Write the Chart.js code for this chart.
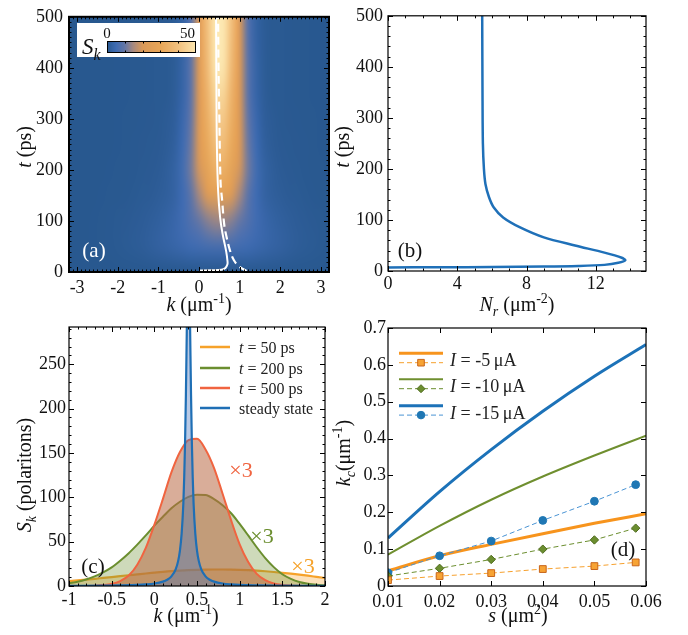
<!DOCTYPE html>
<html>
<head>
<meta charset="utf-8">
<title>polariton panels</title>
<script src="https://cdn.jsdelivr.net/npm/chart.js@4.4.1/dist/chart.umd.min.js"></script>
<style>
  body { margin: 0; background: #fff; }
  #fig { position: relative; width: 688px; height: 635px; overflow: hidden; }
  #fig canvas { position: absolute; }
  #fontwarm { position: absolute; left: -9999px; top: 0; font-family: "Liberation Serif"; font-size: 18px; }
</style>
</head>
<body>
<div id="fontwarm">Sk 0123456789 <i>k t N s I</i></div>
<div id="fig">
  <canvas id="panelA" width="340" height="320" style="left:0;top:0"></canvas>
  <canvas id="panelB" width="358" height="320" style="left:330px;top:0"></canvas>
  <canvas id="panelC" width="340" height="325" style="left:0;top:310px"></canvas>
  <canvas id="panelD" width="358" height="325" style="left:330px;top:310px"></canvas>
</div>
<script>
'use strict'
// ---------- data ----------

// (a) S_k(k, t) map, one row per time
var kCols = [-3.2, -3.0, -2.8, -2.6, -2.4, -2.2, -2.0, -1.8, -1.6, -1.4, -1.2, -1.0, -0.8, -0.6, -0.4, -0.2, 0,
  0.2, 0.4, 0.6, 0.8, 1.0, 1.2, 1.4, 1.6, 1.8, 2.0, 2.2, 2.4, 2.6, 2.8, 3.0, 3.2];
var tRows = [0, 50, 100, 150, 200, 250, 300, 350, 400, 450, 500];
var skT0 = [0,0,0,0,0,0,0,0,0,0,0,0,0,0,0,0,0,0,0,0,0,0,0,0,0,0,0,0,0,0,0,0,0];
var skT50 = [0.02,0.04,0.07,0.1,0.2,0.3,0.45,0.7,1.0,1.35,1.8,2.4,3.0,3.6,4.3,4.9,5.4,5.8,6.0,
  6.0,5.8,5.4,4.9,4.3,3.6,3.0,2.4,1.8,1.35,1.0,0.7,0.45,0.3];
var skT100 = [0.02,0.03,0.05,0.1,0.15,0.25,0.4,0.6,0.8,1.1,1.5,2.1,2.8,3.8,5.4,7.5,10.0,12.3,13.8,
  13.8,12.3,10.0,7.5,5.4,3.8,2.8,2.1,1.5,1.1,0.8,0.6,0.4,0.25];
var skT150 = [0,0,0,0.05,0.1,0.15,0.2,0.3,0.5,0.7,0.9,1.3,1.8,2.9,5.1,9.1,14.6,20.5,24.5,
  24.5,20.5,14.6,9.1,5.1,2.9,1.8,1.3,0.9,0.7,0.5,0.3,0.2,0.15];
var skT200 = [0,0,0,0,0.05,0.1,0.15,0.2,0.3,0.45,0.6,0.9,1.5,2.8,5.7,11.2,19.1,27.5,33.2,
  33.2,27.5,19.1,11.2,5.7,2.8,1.5,0.9,0.6,0.45,0.3,0.2,0.15,0.1];
var skT250 = [0,0,0,0,0.05,0.07,0.1,0.15,0.25,0.35,0.45,0.6,1.05,2.1,4.9,10.7,20.0,31.0,38.4,
  38.4,31.0,20.0,10.7,4.9,2.1,1.05,0.6,0.45,0.35,0.25,0.15,0.1,0.07];
var skT300 = [0,0,0,0,0,0.05,0.1,0.15,0.2,0.25,0.35,0.5,0.8,1.7,4.3,10.1,20.3,32.9,41.9,
  41.9,32.9,20.3,10.1,4.3,1.7,0.8,0.5,0.35,0.25,0.2,0.15,0.1,0.05];
var skT350 = [0,0,0,0,0,0.05,0.08,0.1,0.15,0.2,0.3,0.4,0.5,1.3,3.5,9.2,20.3,34.7,45.4,
  45.4,34.7,20.3,9.2,3.5,1.3,0.5,0.4,0.3,0.2,0.15,0.1,0.08,0.05];
var skT400 = [0,0,0,0,0,0.05,0.08,0.1,0.15,0.2,0.3,0.4,0.5,1.2,3.3,9.2,20.9,37.0,49.2,
  49.2,37.0,20.9,9.2,3.3,1.2,0.5,0.4,0.3,0.2,0.15,0.1,0.08,0.05];
var skT450 = [0,0,0,0,0,0.05,0.08,0.1,0.15,0.2,0.3,0.4,0.5,1.1,3.0,8.8,21.1,38.4,52.0,
  52.0,38.4,21.1,8.8,3.0,1.1,0.5,0.4,0.3,0.2,0.15,0.1,0.08,0.05];
var skT500 = [0,0,0,0,0,0.05,0.08,0.1,0.15,0.2,0.3,0.4,0.5,1.0,2.8,8.4,21.1,39.6,54.8,
  54.8,39.6,21.1,8.4,2.8,1.0,0.5,0.4,0.3,0.2,0.15,0.1,0.08,0.05];
var skGrid = [skT0, skT50, skT100, skT150, skT200, skT250, skT300, skT350, skT400, skT450, skT500];
var colorbarTicks = [0, 50];

// (a) white curves: solid and dashed
var meanK = [0, 0.3, 0.55, 0.65, 0.70, 0.70, 0.67, 0.58, 0.52, 0.47, 0.44, 0.43, 0.42];
var meanT = [3, 3.5, 4.5, 8, 15, 22, 40, 75, 107, 160, 250, 350, 500];
var dashK = [1.17, 1.0, 0.86, 0.76, 0.68, 0.62, 0.57, 0.53, 0.50, 0.48, 0.47];
var dashT = [2, 10, 23, 43, 68, 94, 140, 177, 306, 400, 500];

// (b) reservoir density N_r against time
var nrVals = [0, 3, 6, 9, 11, 12.5, 13.3, 13.7, 13.5, 12.5, 10.8, 9.0, 7.6, 6.65, 6.1, 5.83, 5.63, 5.54, 5.48, 5.46, 5.44];
var nrTimes = [7, 7.3, 7.8, 8.6, 9.8, 12, 16, 21, 26, 36, 50, 66, 86, 105, 125, 145, 170, 200, 250, 333, 500];

// (c) S_k profiles
var kC = [-1, -0.9, -0.8, -0.7, -0.6, -0.5, -0.4, -0.3, -0.2, -0.1, 0, 0.1, 0.2, 0.3, 0.4, 0.5,
  0.6, 0.7, 0.8, 0.9, 1.0, 1.1, 1.2, 1.3, 1.4, 1.5, 1.6, 1.7, 1.8, 1.9, 2.0];
var sk50 = [5.5, 6.3, 7.2, 8.1, 9.1, 10.1, 11.1, 12.1, 13.1, 14.1, 15.0, 15.9, 16.7, 17.3, 17.8, 18.2,
  18.5, 18.6, 18.6, 18.5, 18.2, 17.8, 17.3, 16.6, 15.8, 14.9, 13.9, 12.8, 11.6, 10.3, 9.0];
var sk200 = [3.2, 4.9, 7.4, 10.8, 15.4, 21, 28.5, 37, 46.7, 57, 68, 78, 87.6, 95, 100.5, 102.9,
  102.5, 98, 91, 82, 70, 57, 43.7, 31.5, 21.3, 13.3, 8.1, 4.6, 2.6, 1.4, 0.8];
var sk500 = [0, 0, 0.1, 0.35, 1.0, 2.4, 5.6, 11.8, 24, 43, 69, 98, 128, 151, 164.5, 166,
  154, 133, 104, 74, 47, 27, 13.7, 6.5, 2.8, 1.2, 0.5, 0.2, 0.1, 0, 0];
var kSteady = [-1, -0.6, -0.4, -0.2, -0.1, 0, 0.1, 0.15, 0.2, 0.25, 0.28, 0.30, 0.32, 0.34, 0.35, 0.36, 0.37, 0.38, 0.39, 0.40,
  0.41, 0.42, 0.43, 0.44, 0.45, 0.46, 0.48, 0.50, 0.52, 0.55, 0.60, 0.65, 0.70, 0.80, 0.90, 1.00, 1.20, 1.40, 2.0];
var skSteady = [0.2, 0.44, 0.7, 1.2, 1.8, 2.8, 4.9, 7.0, 10.8, 18.8, 28.6, 40, 59, 93, 122, 161, 216, 285, 353, 383,
  353, 285, 216, 161, 122, 93, 59, 40, 28.6, 18.8, 10.8, 7.0, 4.9, 2.8, 1.8, 1.2, 0.7, 0.44, 0.15];
var cLabels = ['50', '200', '500', 'steady state'];

// (d) k_c against s
var sCurve = [0.01, 0.02, 0.03, 0.04, 0.05, 0.06];
var kc5Curve = [0.041, 0.082, 0.113, 0.142, 0.170, 0.196];
var kc10Curve = [0.085, 0.163, 0.234, 0.297, 0.354, 0.408];
var kc15Curve = [0.13, 0.256, 0.37, 0.474, 0.569, 0.655];
var sSim = [0.01, 0.02, 0.03, 0.04, 0.05, 0.058];
var kc5Sim = [0.016, 0.027, 0.035, 0.046, 0.054, 0.064];
var kc10Sim = [0.027, 0.048, 0.072, 0.100, 0.125, 0.157];
var kc15Sim = [0.036, 0.082, 0.122, 0.178, 0.230, 0.275];
var currents = ['-5', '-10', '-15'];

// ---------- styles ----------
var serif = '"Liberation Serif", "Times New Roman", serif';
Chart.defaults.font.family = serif;
var cmapAt = [0, 0.1, 0.2, 0.3, 0.4, 0.6, 0.8, 1];
var cmapRgb = [[40, 88, 143], [62, 107, 178], [100, 118, 165], [170, 138, 125], [218, 153, 88],
  [232, 166, 88], [242, 192, 126], [252, 230, 175]];

function pairs(xs, ys) {
  return xs.map(function (x, i) { return { x: x, y: ys[i] }; });
}

function skColor(v) {
  var f = Math.max(0, Math.min(1, v / colorbarTicks[1]));
  for (var i = 1; i < cmapAt.length; i++) {
    if (f <= cmapAt[i]) {
      var u = (f - cmapAt[i - 1]) / (cmapAt[i] - cmapAt[i - 1]);
      var c0 = cmapRgb[i - 1], c1 = cmapRgb[i];
      return [c0[0] + (c1[0] - c0[0]) * u, c0[1] + (c1[1] - c0[1]) * u, c0[2] + (c1[2] - c0[2]) * u];
    }
  }
  return cmapRgb[cmapRgb.length - 1];
}

function fontFor(style, size) {
  var small = (style === 'sup' || style === 'sub' || style === 'isub');
  var s = small ? Math.round(size * 0.68) : size;
  var it = (style === 'i' || style === 'isub') ? 'italic ' : '';
  return it + s + 'px ' + serif;
}

// text with italic / sub / sup pieces
function drawRich(ctx, parts, x, y, size, color, align, rotate) {
  ctx.save();
  ctx.translate(x, y);
  if (rotate) ctx.rotate(-Math.PI / 2);
  var w = 0;
  parts.forEach(function (p) { ctx.font = fontFor(p[1], size); w += ctx.measureText(p[0]).width; });
  var cx = align === 'center' ? -w / 2 : (align === 'right' ? -w : 0);
  ctx.fillStyle = color;
  ctx.textBaseline = 'alphabetic';
  ctx.textAlign = 'left';
  parts.forEach(function (p) {
    ctx.font = fontFor(p[1], size);
    var dy = p[1] === 'sup' ? -size * 0.38 : ((p[1] === 'sub' || p[1] === 'isub') ? size * 0.24 : 0);
    ctx.fillText(p[0], cx, dy);
    cx += ctx.measureText(p[0]).width;
  });
  ctx.restore();
}

function tickRow(ctx, sc, sub, major, minor, a, horiz) {
  var t = sc.ticks;
  if (t.length < 2) return;
  var step = (t[1].value - t[0].value) / sub;
  var first = t[0].value;
  var m0 = Math.ceil((sc.min - first) / step - 1e-6);
  var m1 = Math.floor((sc.max - first) / step + 1e-6);
  ctx.beginPath();
  for (var m = m0; m <= m1; m++) {
    var len = (m % sub === 0) ? major : minor;
    var p = Math.round(sc.getPixelForValue(first + m * step)) + 0.5;
    if (horiz) {
      ctx.moveTo(p, a.bottom); ctx.lineTo(p, a.bottom - len);
      ctx.moveTo(p, a.top); ctx.lineTo(p, a.top + len);
    } else {
      ctx.moveTo(a.left, p); ctx.lineTo(a.left + len, p);
      ctx.moveTo(a.right, p); ctx.lineTo(a.right - len, p);
    }
  }
  ctx.stroke();
}

// box round the plot with inward ticks on all sides
var framePlugin = {
  id: 'frame',
  afterDatasetsDraw: function (chart, args, o) {
    var ctx = chart.ctx, a = chart.chartArea;
    ctx.save();
    ctx.strokeStyle = '#000';
    ctx.lineWidth = 1;
    tickRow(ctx, chart.scales.x, o.xSub, o.major, o.minor, a, true);
    tickRow(ctx, chart.scales.y, o.ySub, o.major, o.minor, a, false);
    ctx.lineWidth = o.width;
    ctx.strokeRect(a.left, a.top, a.right - a.left, a.bottom - a.top);
    ctx.restore();
  }
};

// axis titles, panel letters and other text
var decoPlugin = {
  id: 'deco',
  afterDraw: function (chart, args, o) {
    var ctx = chart.ctx;
    (o.texts || []).forEach(function (t) {
      drawRich(ctx, t.parts, t.x, t.y, t.size, t.color || '#111', t.align || 'center', t.rotate);
    });
  }
};

// heat map of S_k for panel (a) and its colour bar
var heatPlugin = {
  id: 'heat',
  beforeDatasetsDraw: function (chart) {
    var xs = chart.scales.x, ys = chart.scales.y, a = chart.chartArea, ctx = chart.ctx;
    var off = document.createElement('canvas');
    off.width = kCols.length;
    off.height = tRows.length;
    var octx = off.getContext('2d');
    var img = octx.createImageData(off.width, off.height);
    for (var r = 0; r < tRows.length; r++) {
      var py = tRows.length - 1 - r;
      for (var c = 0; c < kCols.length; c++) {
        var col = skColor(skGrid[r][c]);
        var p = (py * off.width + c) * 4;
        img.data[p] = col[0]; img.data[p + 1] = col[1]; img.data[p + 2] = col[2]; img.data[p + 3] = 255;
      }
    }
    octx.putImageData(img, 0, 0);
    var dk = kCols[1] - kCols[0], dt = tRows[1] - tRows[0];
    var x0 = xs.getPixelForValue(kCols[0] - dk / 2), x1 = xs.getPixelForValue(kCols[kCols.length - 1] + dk / 2);
    var y0 = ys.getPixelForValue(tRows[tRows.length - 1] + dt / 2), y1 = ys.getPixelForValue(tRows[0] - dt / 2);
    ctx.save();
    ctx.beginPath();
    ctx.rect(a.left, a.top, a.right - a.left, a.bottom - a.top);
    ctx.clip();
    ctx.imageSmoothingEnabled = true;
    ctx.imageSmoothingQuality = 'high';
    ctx.drawImage(off, x0, y0, x1 - x0, y1 - y0);
    ctx.restore();
  },
  afterDatasetsDraw: function (chart) {
    var ctx = chart.ctx;
    ctx.save();
    ctx.fillStyle = '#fff';
    ctx.fillRect(77, 23, 123, 34);
    var bx0 = 107, bx1 = 196, by0 = 41, by1 = 53;
    for (var x = bx0; x < bx1; x++) {
      var c = skColor((x + 0.5 - bx0) / (bx1 - bx0) * colorbarTicks[1]);
      ctx.fillStyle = 'rgb(' + Math.round(c[0]) + ',' + Math.round(c[1]) + ',' + Math.round(c[2]) + ')';
      ctx.fillRect(x, by0, 1, by1 - by0);
    }
    ctx.strokeStyle = '#000';
    ctx.lineWidth = 1;
    ctx.strokeRect(bx0 + 0.5, by0 + 0.5, bx1 - bx0 - 1, by1 - by0 - 1);
    ctx.beginPath();
    for (var i = 1; i < 5; i++) {
      var tx = Math.round(bx0 + (bx1 - bx0) * i / 5) + 0.5;
      ctx.moveTo(tx, by0); ctx.lineTo(tx, by0 + 2.5);
      ctx.moveTo(tx, by1); ctx.lineTo(tx, by1 - 2.5);
    }
    ctx.stroke();
    ctx.restore();
    drawRich(ctx, [[String(colorbarTicks[0]), '']], bx0, 38, 15, '#111', 'center');
    drawRich(ctx, [[String(colorbarTicks[1]), '']], bx1 - 1, 38, 15, '#111', 'right');
    drawRich(ctx, [['S', 'i'], ['k', 'isub']], 82, 54, 23, '#111', 'left');
  }
};

// legend for panel (c)
var legendC = {
  id: 'legendC',
  afterDraw: function (chart) {
    var ctx = chart.ctx;
    var rows = [37, 58, 78, 98];
    var sets = chart.data.datasets;
    for (var i = 0; i < 4; i++) {
      ctx.save();
      ctx.strokeStyle = sets[i].borderColor;
      ctx.lineWidth = 2.5;
      ctx.beginPath();
      ctx.moveTo(200, rows[i]); ctx.lineTo(230, rows[i]);
      ctx.stroke();
      ctx.restore();
      var parts = i < 3 ? [['t', 'i'], [' = ' + cLabels[i] + ' ps', '']] : [[cLabels[i], '']];
      drawRich(ctx, parts, 239, rows[i] + 5.5, 16, '#222', 'left');
    }
  }
};

// legend for panel (d)
var legendD = {
  id: 'legendD',
  afterDraw: function (chart) {
    var ctx = chart.ctx;
    var rows = [43.3, 69.3, 95.7];
    var sets = chart.data.datasets;
    for (var i = 0; i < 3; i++) {
      var solid = sets[3 + i], dash = sets[i];
      var y = rows[i], y2 = rows[i] + 9.4;
      ctx.save();
      ctx.strokeStyle = solid.borderColor;
      ctx.lineWidth = solid.borderWidth;
      ctx.beginPath(); ctx.moveTo(69, y); ctx.lineTo(113, y); ctx.stroke();
      ctx.strokeStyle = dash.borderColor;
      ctx.lineWidth = 1;
      ctx.setLineDash([5, 3]);
      ctx.beginPath(); ctx.moveTo(69, y2); ctx.lineTo(113, y2); ctx.stroke();
      ctx.setLineDash([]);
      ctx.fillStyle = dash.pointBackgroundColor;
      ctx.strokeStyle = dash.pointBorderColor;
      ctx.beginPath();
      if (dash.pointStyle === 'rect') ctx.rect(91 - 3.3, y2 - 3.3, 6.6, 6.6);
      else if (dash.pointStyle === 'rectRot') { ctx.moveTo(91, y2 - 4); ctx.lineTo(95, y2); ctx.lineTo(91, y2 + 4); ctx.lineTo(87, y2); ctx.closePath(); }
      else ctx.arc(91, y2, 3.8, 0, Math.PI * 2);
      ctx.fill(); ctx.stroke();
      ctx.restore();
      drawRich(ctx, [['I', 'i'], [' = ' + currents[i] + '\u2009\u03bcA', '']], 120, y + 13, 18, '#222', 'left');
    }
  }
};

function axis(min, max, step, pad, size) {
  return {
    type: 'linear', min: min, max: max,
    grid: { display: false, drawTicks: false },
    border: { display: false },
    ticks: {
      stepSize: step, includeBounds: false, padding: pad, color: '#111', maxRotation: 0, autoSkip: false,
      font: { family: serif, size: 18 },
      callback: function (v) { return String(Math.round(v * 1000) / 1000); }
    },
    afterFit: function (s) { if (s.isHorizontal()) s.height = size; else s.width = size; }
  };
}

function baseOptions(pad, xAxis, yAxis, frame, texts) {
  return {
    responsive: false, animation: false, devicePixelRatio: 1,
    layout: { padding: pad },
    scales: { x: xAxis, y: yAxis },
    plugins: { legend: { display: false }, tooltip: { enabled: false }, frame: frame, deco: { texts: texts } }
  };
}

var kUnit = [['k', 'i'], [' (\u03bcm', ''], ['-1', 'sup'], [')', '']];
var tUnit = [['t', 'i'], [' (ps)', '']];

function drawAll() {
  // ---------- (a) ----------
  new Chart(document.getElementById('panelA'), {
    type: 'scatter',
    data: { datasets: [
      { data: pairs(meanK, meanT), showLine: true, borderColor: '#fff', borderWidth: 2, pointRadius: 0, tension: 0.4 },
      { data: pairs(dashK, dashT), showLine: true, borderColor: '#fff', borderWidth: 2.2, borderDash: [8, 5], pointRadius: 0, tension: 0.4 }
    ] },
    options: baseOptions({ top: 14, right: 11, left: 0, bottom: 0 },
      axis(-3.2, 3.2, 1, 5, 48), axis(0, 500, 100, 6, 69),
      { width: 2, xSub: 10, ySub: 10, major: 5, minor: 2.5 },
      [
        { parts: kUnit, x: 199, y: 311, size: 20 },
        { parts: tUnit, x: 31, y: 147, size: 20, rotate: true },
        { parts: [['(a)', '']], x: 94, y: 257, size: 21, color: '#fff' }
      ]),
    plugins: [heatPlugin, framePlugin, decoPlugin]
  });

  // ---------- (b) ----------
  new Chart(document.getElementById('panelB'), {
    type: 'scatter',
    data: { datasets: [
      { data: pairs(nrVals, nrTimes), showLine: true, borderColor: '#1f70b8', borderWidth: 2.5, pointRadius: 0, tension: 0.3 }
    ] },
    options: baseOptions({ top: 15, right: 42, left: 0, bottom: 0 },
      axis(0, 14.9, 4, 2, 49), axis(0, 500, 100, 5, 58),
      { width: 1.2, xSub: 4, ySub: 5, major: 5, minor: 2.5 },
      [
        { parts: [['N', 'i'], ['r', 'isub'], [' (\u03bcm', ''], ['-2', 'sup'], [')', '']], x: 187, y: 311, size: 20 },
        { parts: tUnit, x: 19, y: 147, size: 20, rotate: true },
        { parts: [['(b)', '']], x: 80, y: 257, size: 21 }
      ]),
    plugins: [framePlugin, decoPlugin]
  });

  // ---------- (c) ----------
  new Chart(document.getElementById('panelC'), {
    type: 'scatter',
    data: { datasets: [
      { label: cLabels[0], order: 4, data: pairs(kC, sk50), showLine: true, borderColor: '#f6a22a', backgroundColor: 'rgba(246,170,60,0.35)', fill: 'origin', borderWidth: 2.2, pointRadius: 0, cubicInterpolationMode: 'monotone' },
      { label: cLabels[1], order: 3, data: pairs(kC, sk200), showLine: true, borderColor: '#6b8e2f', backgroundColor: 'rgba(107,142,47,0.33)', fill: 'origin', borderWidth: 2, pointRadius: 0, cubicInterpolationMode: 'monotone' },
      { label: cLabels[2], order: 2, data: pairs(kC, sk500), showLine: true, borderColor: '#f06440', backgroundColor: 'rgba(185,105,70,0.55)', fill: 'origin', borderWidth: 2, pointRadius: 0, cubicInterpolationMode: 'monotone' },
      { label: cLabels[3], order: 1, data: pairs(kSteady, skSteady), showLine: true, borderColor: '#1f6fb5', backgroundColor: 'rgba(70,115,190,0.38)', fill: 'origin', borderWidth: 2.2, pointRadius: 0, cubicInterpolationMode: 'monotone' }
    ] },
    options: baseOptions({ top: 17, right: 15, left: 0, bottom: 0 },
      axis(-1, 2, 0.5, 3, 49), axis(0, 292, 50, 3, 69),
      { width: 1.2, xSub: 5, ySub: 5, major: 5, minor: 2.5 },
      [
        { parts: kUnit, x: 186, y: 312, size: 20 },
        { parts: [['S', 'i'], ['k', 'isub'], [' (polaritons)', '']], x: 31, y: 165, size: 20, rotate: true },
        { parts: [['(c)', '']], x: 93, y: 263, size: 21 },
        { parts: [['\u00d73', '']], x: 241, y: 167, size: 22, color: '#f06440' },
        { parts: [['\u00d73', '']], x: 262, y: 233, size: 22, color: '#6b8e2f' },
        { parts: [['\u00d73', '']], x: 303, y: 263, size: 22, color: '#f6a22a' }
      ]),
    plugins: [framePlugin, decoPlugin, legendC]
  });

  // ---------- (d) ----------
  new Chart(document.getElementById('panelD'), {
    type: 'scatter',
    data: { datasets: [
      { data: pairs(sSim, kc5Sim), showLine: true, borderColor: '#f6a02d', borderWidth: 1, borderDash: [5, 3], pointStyle: 'rect', pointRadius: 4.8, pointBackgroundColor: '#f7a334', pointBorderColor: '#c8651b', pointBorderWidth: 1 },
      { data: pairs(sSim, kc10Sim), showLine: true, borderColor: '#6b8e2f', borderWidth: 1, borderDash: [5, 3], pointStyle: 'rectRot', pointRadius: 4.2, pointBackgroundColor: '#6b8e2f', pointBorderColor: '#4f6b1e', pointBorderWidth: 1 },
      { data: pairs(sSim, kc15Sim), showLine: true, borderColor: '#4a94d4', borderWidth: 1, borderDash: [5, 3], pointStyle: 'circle', pointRadius: 3.9, pointBackgroundColor: '#1f77b4', pointBorderColor: '#1f77b4', pointBorderWidth: 1 },
      { data: pairs(sCurve, kc5Curve), showLine: true, borderColor: '#f7941d', borderWidth: 3, pointRadius: 0, cubicInterpolationMode: 'monotone' },
      { data: pairs(sCurve, kc10Curve), showLine: true, borderColor: '#6f8f2f', borderWidth: 2, pointRadius: 0, cubicInterpolationMode: 'monotone' },
      { data: pairs(sCurve, kc15Curve), showLine: true, borderColor: '#1c72b8', borderWidth: 3, pointRadius: 0, cubicInterpolationMode: 'monotone' }
    ] },
    options: baseOptions({ top: 18, right: 42, left: 0, bottom: 0 },
      axis(0.01, 0.06, 0.01, 5, 49), axis(0, 0.7, 0.1, 2, 58),
      { width: 1.2, xSub: 1, ySub: 1, major: 5, minor: 0 },
      [
        { parts: [['s', 'i'], [' (\u03bcm', ''], ['2', 'sup'], [')', '']], x: 188, y: 312, size: 20 },
        { parts: [['k', 'i'], ['c', 'isub'], ['(\u03bcm', ''], ['-1', 'sup'], [')', '']], x: 20, y: 143, size: 20, rotate: true },
        { parts: [['(d)', '']], x: 293, y: 246, size: 21 }
      ]),
    plugins: [framePlugin, decoPlugin, legendD]
  });
}

// make sure the serif face is loaded before the canvases use it
var fontJobs = [document.fonts.load('18px "Liberation Serif"'), document.fonts.load('italic 18px "Liberation Serif"')];
Promise.all(fontJobs).then(drawAll, drawAll);
</script>
</body>
</html>
